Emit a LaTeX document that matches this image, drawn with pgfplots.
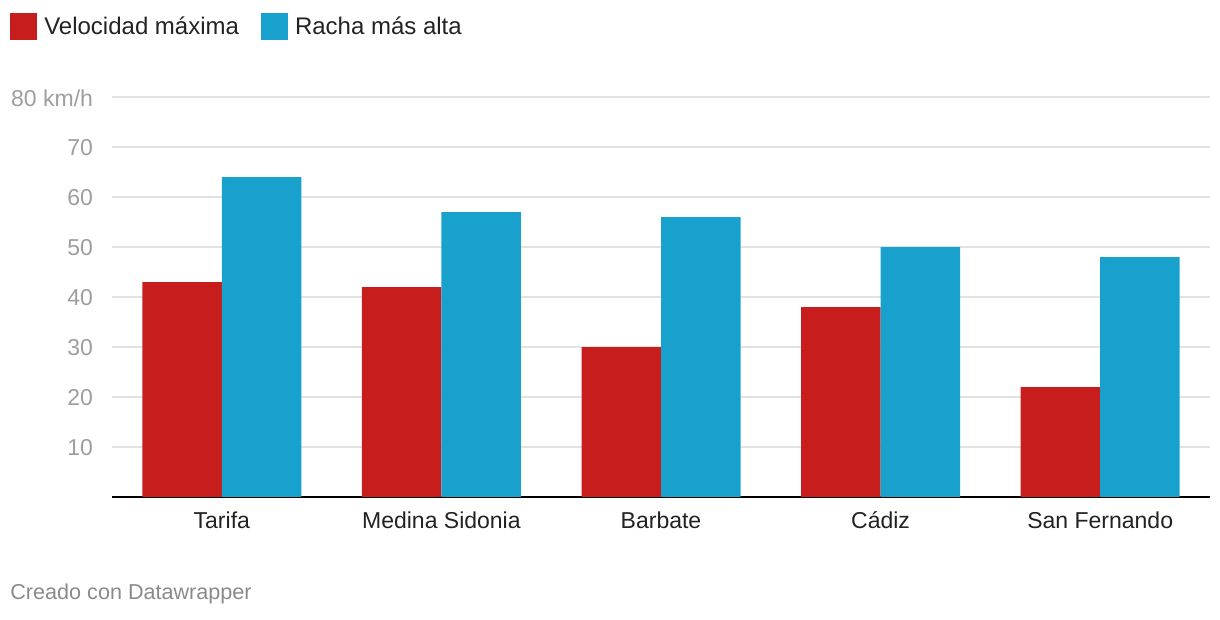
\documentclass[border=0pt]{standalone}
\usepackage{fontspec}
\setmainfont{Liberation Sans}
\usepackage{pgfplots}
\pgfplotsset{compat=1.18}

\definecolor{dwred}{HTML}{C71E1D}
\definecolor{dwblue}{HTML}{18A1CD}
\definecolor{gridgray}{HTML}{E2E2E2}
\definecolor{ticktext}{HTML}{9E9E9E}
\definecolor{labtext}{HTML}{222222}
\definecolor{notegray}{HTML}{8A8A8A}

\begin{document}
\begin{tikzpicture}
\path[use as bounding box] (0bp,0bp) rectangle (610bp,310bp);
\begin{axis}[
    at={(56bp,61.5bp)}, anchor=south west,
    scale only axis,
    width=549bp, height=200bp,
    ybar=0pt, bar width=0.362,
    xmin=-0.5, xmax=4.5,
    ymin=0, ymax=80,
    xtick=data,
    xticklabels={Tarifa,Medina Sidonia,Barbate,Cádiz,San Fernando},
    ytick={10,20,...,80},
    yticklabels={10,20,30,40,50,60,70,80 km/h},
    major tick length=0pt,
    axis x line*=bottom,
    axis y line*=left,
    y axis line style={draw=none},
    x axis line style={draw=black, line width=1bp},
    ymajorgrids,
    grid style={gridgray, line width=0.6bp},
    font=\fontsize{11.5bp}{13bp}\selectfont,
    /pgf/number format/assume math mode=true,
    yticklabel style={text=ticktext, anchor=east, xshift=-6bp, yshift=-0.5bp},
    xticklabel style={text=labtext, anchor=north, yshift=-4bp},
    legend style={at={(-0.093,1.21)}, anchor=north west, draw=none,
        fill=none, font=\fontsize{12bp}{14bp}\selectfont,
        text=labtext, inner sep=0pt,
        /tikz/every odd column/.append style={column sep=3.5bp},
        /tikz/every even column/.append style={column sep=11bp},
        nodes={inner sep=0pt, anchor=west}},
    legend columns=2,
    legend image code/.code={\fill[#1] (0bp,-6.75bp) rectangle (13.5bp,6.75bp);},
]
\addplot[fill=dwred, draw=none] coordinates {(0,43) (1,42) (2,30) (3,38) (4,22)};
\addplot[fill=dwblue, draw=none] coordinates {(0,64) (1,57) (2,56) (3,50) (4,48)};
\legend{Velocidad máxima,Racha más alta}
\end{axis}
\node[anchor=west, text=notegray, font=\fontsize{10.8bp}{13bp}\selectfont, inner sep=0pt] at (5bp,13bp) {Creado con Datawrapper};
\end{tikzpicture}
\end{document}
